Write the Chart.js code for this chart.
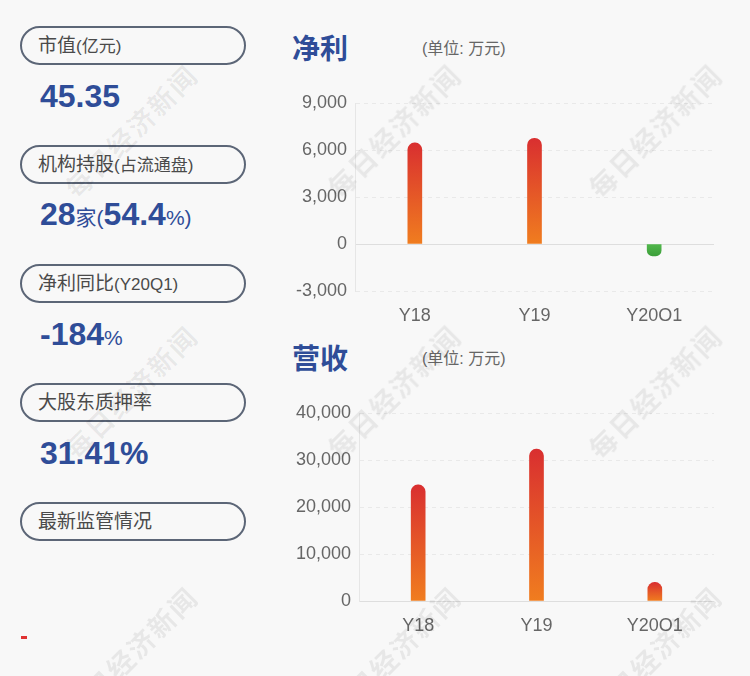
<!DOCTYPE html>
<html>
<head>
<meta charset="utf-8">
<script src="https://cdn.jsdelivr.net/npm/chart.js@4"></script>
<style>
  html, body { margin: 0; padding: 0; }
  body {
    width: 750px; height: 676px; position: relative; overflow: hidden;
    background: #f8f8f8;
    font-family: 'Liberation Sans', 'Noto Sans CJK SC', sans-serif;
  }
  .pill {
    position: absolute; left: 20px; height: 35px;
    border: 2px solid #5c6677; border-radius: 20px;
    color: #4a4a4a; font-size: 19px; line-height: 35px;
    padding-left: 16px; box-sizing: content-box; width: 206px;
  }
  .pill small { font-size: 17px; }
  .val {
    position: absolute; left: 40px; color: #2f4d98;
    font-size: 32px; line-height: 32px; font-weight: bold;
    white-space: nowrap;
  }
  .val .u { font-size: 21px; font-weight: normal; }
  .title {
    position: absolute; left: 292px; color: #2f4d98;
    font-size: 28px; font-weight: bold; line-height: 30px;
  }
  .unit {
    position: absolute; left: 422px; color: #666;
    font-size: 16px; line-height: 20px;
  }
  .chartbox { position: absolute; left: 280px; width: 450px; height: 241px; }
  .wm {
    position: absolute; width: 220px; margin-left: -110px; text-align: center;
    font-size: 27px; font-weight: bold; letter-spacing: 2px;
    color: rgba(0,0,0,0.065); transform: rotate(-45deg);
    pointer-events: none; white-space: nowrap; line-height: 30px; margin-top: -15px;
    font-family: 'Noto Sans CJK SC', sans-serif;
  }
  .dash { position: absolute; left: 21px; top: 636px; width: 6px; height: 3px; background: #e03232; }
</style>
</head>
<body>

<div class="pill" style="top:26px">市值<small>(亿元)</small></div>
<div class="val" style="top:80px">45.35</div>

<div class="pill" style="top:145px">机构持股<small>(占流通盘)</small></div>
<div class="val" style="top:198px">28<span class="u">家(</span>54.4<span class="u">%)</span></div>

<div class="pill" style="top:264px">净利同比<small>(Y20Q1)</small></div>
<div class="val" style="top:318px">-184<span class="u">%</span></div>

<div class="pill" style="top:383px">大股东质押率</div>
<div class="val" style="top:437px">31.41%</div>

<div class="pill" style="top:502px">最新监管情况</div>
<div class="dash"></div>

<div class="title" style="top:35px">净利</div>
<div class="unit" style="top:39px">(单位: 万元)</div>
<div class="chartbox" style="top:80px"><canvas id="profitChart"></canvas></div>

<div class="title" style="top:345px">营收</div>
<div class="unit" style="top:349px">(单位: 万元)</div>
<div class="chartbox" style="top:390px"><canvas id="revenueChart"></canvas></div>

<div class="wm" style="left:394px;top:131px">每日经济新闻</div>
<div class="wm" style="left:655px;top:131px">每日经济新闻</div>
<div class="wm" style="left:131px;top:131px">每日经济新闻</div>
<div class="wm" style="left:394px;top:392px">每日经济新闻</div>
<div class="wm" style="left:655px;top:392px">每日经济新闻</div>
<div class="wm" style="left:131px;top:392px">每日经济新闻</div>
<div class="wm" style="left:394px;top:653px">每日经济新闻</div>
<div class="wm" style="left:655px;top:653px">每日经济新闻</div>
<div class="wm" style="left:131px;top:653px">每日经济新闻</div>

<script>
const periods = ['Y18', 'Y19', 'Y20Q1'];
const netProfit = [6450, 6750, -760];
const revenue = [24700, 32300, 3950];
const profitTicks = { min: -3000, max: 9000, step: 3000 };
const revenueTicks = { min: 0, max: 40000, step: 10000 };

Chart.defaults.font.family = "'Liberation Sans', 'Noto Sans CJK SC', sans-serif";
Chart.defaults.color = '#666';

function barFill(ctx) {
  const chart = ctx.chart;
  if (!chart.chartArea) return '#e55a28';
  const v = ctx.raw;
  const y = chart.scales.y;
  const top = y.getPixelForValue(v);
  const base = y.getPixelForValue(0);
  const g = chart.ctx.createLinearGradient(0, Math.min(top, base), 0, Math.max(top, base));
  if (v < 0) {
    g.addColorStop(0, '#52b84c');
    g.addColorStop(1, '#3c9f3a');
  } else {
    g.addColorStop(0, '#d92f30');
    g.addColorStop(1, '#f07d1f');
  }
  return g;
}

function makeChart(id, values, ticks, axisWidth) {
  return new Chart(document.getElementById(id), {
    type: 'bar',
    data: {
      labels: periods,
      datasets: [{
        data: values,
        backgroundColor: barFill,
        barThickness: 14,
        borderRadius: 7,
        borderSkipped: 'start'
      }]
    },
    options: {
      responsive: true,
      maintainAspectRatio: false,
      animation: false,
      layout: { padding: { top: 23, right: 16, left: 0, bottom: 0 } },
      plugins: { legend: { display: false }, tooltip: { enabled: false } },
      scales: {
        x: {
          grid: { display: false },
          border: { display: false },
          ticks: { font: { size: 18 }, color: '#666', padding: 6 },
          afterFit: (s) => { s.height = 30; }
        },
        y: {
          min: ticks.min,
          max: ticks.max,
          ticks: {
            stepSize: ticks.step,
            font: { size: 18 },
            color: '#666',
            padding: 8,
            callback: (v) => v.toLocaleString('en-US')
          },
          grid: {
            drawTicks: false,
            color: (c) => (c.tick && c.tick.value === 0) ? '#dedede' : '#e9e9e9'
          },
          border: {
            display: true,
            color: '#e6e6e6',
            dash: (c) => (c.tick && c.tick.value === 0) ? [] : [4, 4]
          },
          afterFit: (s) => { s.width = axisWidth; }
        }
      }
    }
  });
}

makeChart('profitChart', netProfit, profitTicks, 75);
makeChart('revenueChart', revenue, revenueTicks, 79);
</script>
</body>
</html>
